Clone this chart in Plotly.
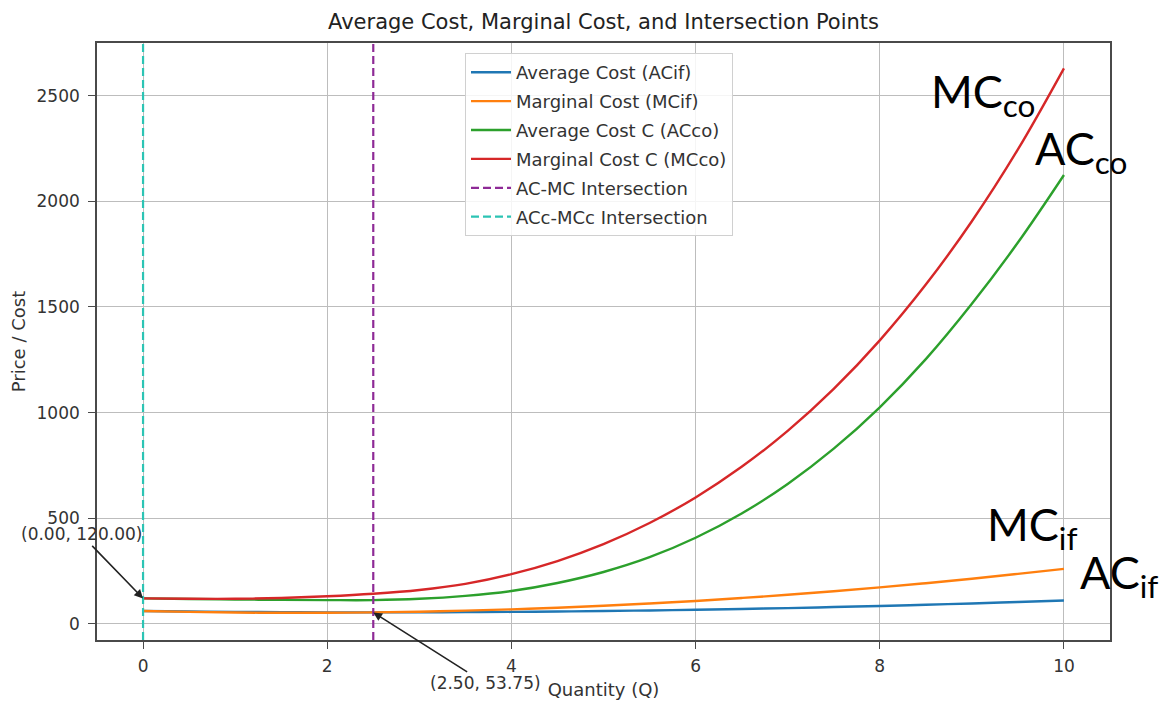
import plotly.graph_objects as go

# ---- data ----
Q = [0, 0.5, 1, 1.5, 2, 2.5, 3, 3.5, 4, 4.5, 5, 5.5, 6, 6.5, 7, 7.5, 8, 8.5, 9, 9.5, 10]
AC_if = [60, 58, 56, 55, 54, 53.75, 54, 55, 56, 58, 60, 63, 66, 70, 74, 79, 84, 90, 96, 103, 110]
MC_if = [60, 56, 53, 52, 52, 53.75, 57, 62, 68, 76, 85, 96, 108, 122, 137, 154, 172, 192, 213, 236, 260]
AC_co = [120, 117, 115, 113, 112, 112, 118, 132, 155, 193, 245, 315, 407, 522, 662, 829, 1025, 1253, 1515, 1805, 2125]
MC_co = [120, 118, 118, 122, 130, 142, 160, 189, 235, 297, 377, 477, 598, 743, 913, 1112, 1342, 1606, 1906, 2246, 2630]

q_int_if = 2.5
p_int_if = 53.75
q_int_co = 0.0
p_int_co = 120.0

x_range = [-0.5, 10.5]
y_range = [-77, 2750]
x_ticks = [0, 2, 4, 6, 8, 10]
y_ticks = [0, 500, 1000, 1500, 2000, 2500]

# page has the browser's default 8px body margin
OFF = 8
W, H = 1174 - OFF, 701 - OFF
L, R, T, B = 97 - OFF, 64, 43 - OFF, 61
PW, PH = W - L - R, H - T - B


def px(xp):  # page pixel -> paper
    return (xp - OFF - L) / PW


def py(yp):
    return (H - B - (yp - OFF)) / PH


FONT = "DejaVu Sans"
TXT = "#333333"

fig = go.Figure()

series = [
    ("Average Cost (ACif)", AC_if, "#1f77b4"),
    ("Marginal Cost (MCif)", MC_if, "#ff7f0e"),
    ("Average Cost C (ACco)", AC_co, "#2ca02c"),
    ("Marginal Cost C (MCco)", MC_co, "#d62728"),
]
for i, (name, ys, col) in enumerate(series):
    fig.add_trace(go.Scatter(
        x=Q, y=ys, mode="lines", name=name, legendgroup=f"g{i}",
        line=dict(color=col, width=2.4, shape="spline", smoothing=1.0),
    ))

fig.add_trace(go.Scatter(
    x=[q_int_if, q_int_if], y=y_range, mode="lines", name="AC-MC Intersection",
    legendgroup="g4", line=dict(color="#8e2a96", width=2.2, dash="8px,4px"),
))
fig.add_trace(go.Scatter(
    x=[q_int_co, q_int_co], y=y_range, mode="lines", name="ACc-MCc Intersection",
    legendgroup="g5", line=dict(color="#2cc4b4", width=2.2, dash="8px,4px"),
))

annotations = [
    dict(x=q_int_co, y=p_int_co, xref="x", yref="y",
         text=f"({q_int_co:.2f}, {p_int_co:.2f})", showarrow=True,
         ax=-62, ay=-64, arrowhead=2, arrowsize=1.1, arrowwidth=1.6,
         arrowcolor="#222222", font=dict(family=FONT, size=17, color=TXT)),
    dict(x=q_int_if, y=p_int_if, xref="x", yref="y",
         text=f"({q_int_if:.2f}, {p_int_if:.2f})", showarrow=True,
         ax=112, ay=71, arrowhead=2, arrowsize=1.1, arrowwidth=1.6,
         arrowcolor="#222222", font=dict(family=FONT, size=17, color=TXT)),
]

big = [
    ("MC<sub>co</sub>", 929, 94),
    ("AC<sub>co</sub>", 1033, 151),
    ("MC<sub>if</sub>", 985, 527),
    ("AC<sub>if</sub>", 1078, 575),
]
for txt, xp, yp in big:
    annotations.append(dict(
        x=px(xp), y=py(yp), xref="paper", yref="paper", text=txt,
        showarrow=False, xanchor="left", yanchor="middle",
        font=dict(family="Lato", size=45, color="black"),
    ))

fig.update_layout(
    width=W, height=H, autosize=False,
    margin=dict(l=L, r=R, t=T, b=B, autoexpand=False),
    paper_bgcolor="white", plot_bgcolor="white",
    title=dict(text="Average Cost, Marginal Cost, and Intersection Points",
               x=(L + PW / 2) / W, xanchor="center", y=1 - (22 - OFF) / H,
               yanchor="middle", yref="container",
               font=dict(family=FONT, size=21, color="#222222")),
    showlegend=True,
    legend=dict(x=px(465), y=py(53), xanchor="left", yanchor="top",
                bgcolor="rgba(255,255,255,0.85)", bordercolor="#d0d0d0",
                borderwidth=1, traceorder="grouped", tracegroupgap=2.5,
                itemwidth=40,
                font=dict(family=FONT, size=18, color=TXT)),
    annotations=annotations,
    xaxis=dict(range=x_range, tickvals=x_ticks, ticktext=[str(t) for t in x_ticks],
               automargin=False,
               showgrid=True, gridcolor="#bdbdbd", gridwidth=1.2, zeroline=False,
               showline=True, linecolor="#4a4a4a", linewidth=1.6, mirror=True,
               ticks="outside", ticklen=7, tickcolor="#4a4a4a",
               ticklabelstandoff=3,
               tickfont=dict(family=FONT, size=17, color=TXT),
               title=dict(text="Quantity (Q)", standoff=8,
                          font=dict(family=FONT, size=18, color=TXT))),
    yaxis=dict(range=y_range, tickvals=y_ticks, ticktext=[str(t) for t in y_ticks],
               automargin=False,
               showgrid=True, gridcolor="#bdbdbd", gridwidth=1.2, zeroline=False,
               showline=True, linecolor="#4a4a4a", linewidth=1.6, mirror=True,
               ticks="outside", ticklen=7, tickcolor="#4a4a4a",
               ticklabelstandoff=5,
               tickfont=dict(family=FONT, size=17, color=TXT),
               title=dict(text="Price / Cost", standoff=7,
                          font=dict(family=FONT, size=18, color=TXT))),
)

fig.write_html("out.html", config={"displayModeBar": False})
